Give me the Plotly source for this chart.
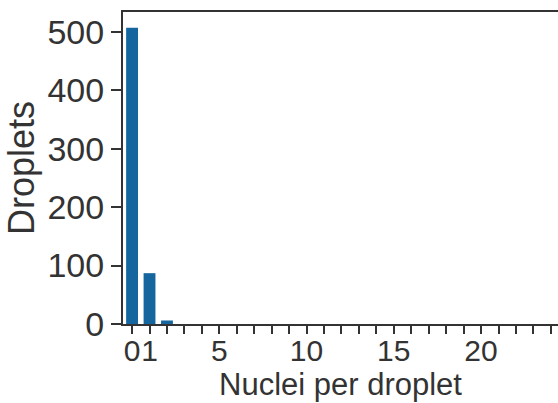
import plotly.graph_objects as go

nuclei = list(range(0, 25))
droplets = [507, 87, 6] + [0] * 22
tick_vals = list(range(0, 25))
tick_text = ["0", "1", "", "", "", "5", "", "", "", "", "10", "", "", "", "", "15",
             "", "", "", "", "20", "", "", "", ""]
y_ticks = [0, 100, 200, 300, 400, 500]
x_title = "Nuclei per droplet"
y_title = "Droplets"

fig = go.Figure(go.Bar(
    x=nuclei, y=droplets, width=0.68,
    marker=dict(color="#15659f", line=dict(width=0)),
))

axis_col = "#333333"
fig.update_layout(
    width=558, height=403,
    margin=dict(l=123, r=0, t=12, b=79),
    paper_bgcolor="white", plot_bgcolor="white",
    font=dict(family="Liberation Sans, Arial, sans-serif", color="#333333"),
    showlegend=False,
)
fig.add_annotation(
    text=x_title, xref="paper", yref="paper", x=0.5, y=0,
    xanchor="center", yanchor="bottom", yshift=-79, showarrow=False,
    font=dict(size=31), borderpad=0,
)
fig.update_xaxes(
    range=[-0.52, 24.41], tickmode="array", tickvals=tick_vals, ticktext=tick_text,
    tickangle=0, ticks="outside", ticklen=8, tickwidth=2, tickcolor=axis_col,
    showline=True, linewidth=2, linecolor=axis_col, mirror=True,
    showgrid=False, zeroline=False, tickfont=dict(size=30), automargin=False,
    ticklabelstandoff=-9,
)
fig.update_yaxes(
    range=[0, 534], tickmode="array", tickvals=y_ticks,
    ticks="outside", ticklen=10, tickwidth=2, tickcolor=axis_col,
    showline=True, linewidth=2, linecolor=axis_col,
    showgrid=False, zeroline=False, tickfont=dict(size=34), automargin=False,
    title=dict(text=y_title, font=dict(size=36), standoff=2),
)
fig.write_html("out.html", config={"displayModeBar": False},
               post_script="document.body.style.margin='0';")
